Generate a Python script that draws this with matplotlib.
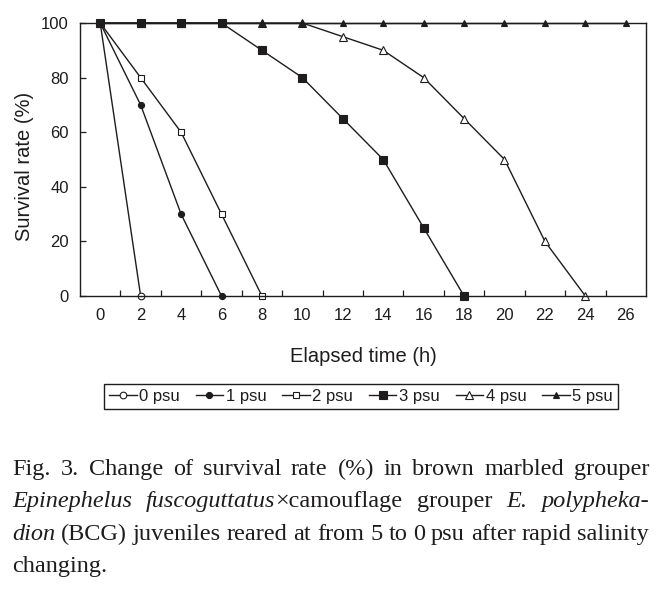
import numpy as np
import matplotlib
matplotlib.use('Agg')
import matplotlib.pyplot as plt

# elapsed time (h) and survival rate (%) for each salinity
hours = [0, 2, 4, 6, 8, 10, 12, 14, 16, 18, 20, 22, 24, 26]
surv_0psu = [100, 0]
surv_1psu = [100, 70, 30, 0]
surv_2psu = [100, 80, 60, 30, 0]
surv_3psu = [100, 100, 100, 100, 90, 80, 65, 50, 25, 0]
surv_4psu = [100, 100, 100, 100, 100, 100, 95, 90, 80, 65, 50, 20, 0]
surv_5psu = [100] * 14
series_labels = ['0 psu', '1 psu', '2 psu', '3 psu', '4 psu', '5 psu']

caption = [
    "Fig. 3. Change of survival rate (%) in brown marbled grouper",
    "*Epinephelus* *fuscoguttatus*×camouflage grouper *E.* *polypheka-*",
    "*dion* (BCG) juveniles reared at from 5 to 0 psu after rapid salinity",
    "changing.",
]

ink = '#1e1c1d'
plt.rcParams['font.family'] = ['Liberation Sans', 'DejaVu Sans']
plt.rcParams['text.color'] = ink

W, H = 660, 594
fig = plt.figure(figsize=(W / 100, H / 100), dpi=100)
ax = fig.add_axes([80 / W, 1 - 296 / H, 566 / W, 273 / H])

styles = [
    dict(marker='o', mfc='white', ms=4.8),
    dict(marker='o', mfc=ink, ms=4.4),
    dict(marker='s', mfc='white', ms=4.8),
    dict(marker='s', mfc=ink, ms=5.3),
    dict(marker='^', mfc='white', ms=5.6),
    dict(marker='^', mfc=ink, ms=5.0),
]
all_series = [surv_0psu, surv_1psu, surv_2psu, surv_3psu, surv_4psu, surv_5psu]
for vals, lab, st in zip(all_series, series_labels, styles):
    ax.plot(hours[:len(vals)], vals, color=ink, lw=1.0, mec=ink, mew=0.8,
            label=lab, clip_on=False, **st)

ax.set_xlim(-1, 27)
ax.set_ylim(0, 100)
ax.set_xticks(hours)
ax.set_xticks(np.arange(1, 26, 2), minor=True)
ax.set_yticks(np.arange(0, 101, 20))
ax.tick_params(axis='x', which='major', length=0, pad=8.5, labelsize=12, labelcolor=ink)
ax.tick_params(axis='x', which='minor', direction='in', length=4, width=0.9, color=ink)
ax.tick_params(axis='y', direction='in', length=4, width=0.9, color=ink, pad=8, labelsize=12, labelcolor=ink)
for s in ax.spines.values():
    s.set_linewidth(1.0)
    s.set_color(ink)

fig.text(363 / W, 1 - 362 / H, 'Elapsed time (h)', fontsize=14.5, ha='center', va='baseline')
fig.text(25 / W, 1 - 166 / H, 'Survival rate (%)', fontsize=14.5, ha='center', va='center', rotation=90)

leg = ax.legend(loc='center', bbox_to_anchor=(361 / W, 1 - 396 / H), bbox_transform=fig.transFigure,
                ncol=6, fontsize=12, frameon=True, fancybox=False, edgecolor=ink, framealpha=1,
                borderpad=0.3, handlelength=1.65, handletextpad=0.15, columnspacing=0.95, borderaxespad=0)
leg.get_frame().set_linewidth(1.0)

# caption, justified word by word
renderer = fig.canvas.get_renderer()
cap_left, cap_right = 12, 649
cap_size = 17.5
baselines = [475, 507, 540, 572]


def make_word(word):
    parts = word.split('*')
    out = []
    for i, p in enumerate(parts):
        if p:
            t = fig.text(0, 0, p, fontsize=cap_size, family='Liberation Serif',
                         style='italic' if i % 2 else 'normal', va='baseline')
            out.append((t, t.get_window_extent(renderer).width))
    return out


tmp = make_word('a a') + make_word('aa')
space_w = tmp[0][1] - tmp[1][1]
for t, _ in tmp:
    t.remove()

for n, (line, yb) in enumerate(zip(caption, baselines)):
    words = [make_word(w) for w in line.split(' ')]
    widths = [sum(w for _, w in wd) for wd in words]
    if n < len(caption) - 1 and len(words) > 1:
        gap = (cap_right - cap_left - sum(widths)) / (len(words) - 1)
    else:
        gap = space_w
    x = cap_left
    for wd, ww in zip(words, widths):
        xx = x
        for t, w in wd:
            t.set_position((xx / W, 1 - yb / H))
            xx += w
        x += ww + gap

fig.savefig('out.png', dpi=100)
